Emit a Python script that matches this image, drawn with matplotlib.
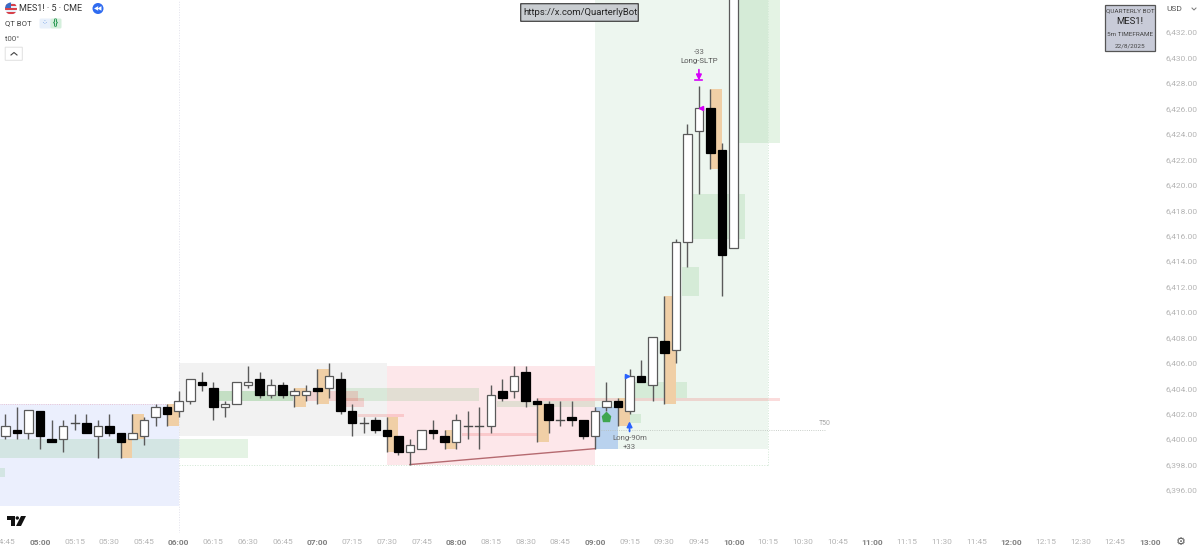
import matplotlib
matplotlib.use('Agg')
import matplotlib.pyplot as plt
from matplotlib.patches import Rectangle, FancyBboxPatch, Circle, Polygon

plt.rcParams['font.family'] = ['Roboto', 'DejaVu Sans']

# bars are 5 minutes apart, bar 0 is 05:00
first_bar = -3
opens = [6400.25, 6400.75, 6400.5, 6402.25, 6400.0, 6400.0, 6401.25, 6401.25, 6400.25, 6401.0,
         6400.5, 6400.0, 6400.25, 6401.75, 6402.5, 6402.25, 6403.0, 6404.5, 6404.0, 6402.5,
         6402.75, 6404.25, 6404.75, 6403.5, 6404.25, 6403.5, 6403.5, 6404.0, 6404.0, 6404.75,
         6402.25, 6401.25, 6401.5, 6400.75, 6400.25, 6399.0, 6399.25, 6400.75, 6400.25, 6399.75,
         6401.0, 6401.0, 6401.0, 6403.75, 6403.75, 6405.25, 6403.0, 6402.75, 6401.5, 6401.75,
         6401.5, 6400.25, 6402.5, 6403.0, 6402.25, 6405.0, 6404.25, 6407.75, 6407.0, 6415.5,
         6424.25, 6426.0, 6422.75, 6415.0]
highs = [6402.0, 6402.5, 6402.25, 6402.25, 6401.5, 6401.5, 6402.0, 6402.0, 6401.5, 6402.0,
         6400.5, 6402.0, 6401.75, 6402.75, 6402.75, 6403.75, 6404.75, 6405.25, 6404.5, 6403.0,
         6404.5, 6405.75, 6405.25, 6404.75, 6404.5, 6404.0, 6404.25, 6405.5, 6406.0, 6405.25,
         6402.75, 6401.75, 6401.75, 6401.75, 6400.25, 6400.0, 6400.75, 6401.5, 6400.75, 6402.0,
         6402.25, 6402.5, 6404.25, 6404.75, 6405.75, 6405.75, 6403.25, 6403.0, 6403.0, 6403.0,
         6401.5, 6402.5, 6404.5, 6403.25, 6405.5, 6406.25, 6408.0, 6411.25, 6415.75, 6424.75,
         6427.75, 6427.5, 6423.25, 6436.0]
lows = [6400.0, 6400.0, 6400.0, 6399.25, 6399.75, 6399.0, 6400.75, 6400.5, 6398.5, 6400.25,
        6398.5, 6400.0, 6399.5, 6401.0, 6401.0, 6401.75, 6402.75, 6403.75, 6401.5, 6401.75,
        6402.75, 6404.0, 6403.25, 6403.25, 6403.25, 6402.5, 6403.0, 6402.75, 6403.25, 6402.0,
        6400.25, 6400.5, 6400.5, 6399.0, 6398.75, 6398.0, 6399.25, 6400.0, 6399.25, 6399.25,
        6400.0, 6399.25, 6400.5, 6403.0, 6403.25, 6402.5, 6399.75, 6400.5, 6401.0, 6401.0,
        6400.0, 6399.25, 6402.25, 6401.0, 6402.0, 6404.5, 6403.0, 6402.75, 6406.0, 6413.5,
        6419.25, 6421.25, 6411.25, 6415.0]
closes = [6401.0, 6400.5, 6402.25, 6400.25, 6399.75, 6401.0, 6401.25, 6400.5, 6401.0, 6400.5,
          6399.75, 6400.5, 6401.5, 6402.5, 6402.0, 6403.0, 6404.75, 6404.25, 6402.5, 6402.75,
          6404.5, 6404.5, 6403.5, 6404.25, 6403.5, 6403.75, 6403.75, 6403.75, 6405.0, 6402.25,
          6401.25, 6401.25, 6400.75, 6400.25, 6399.0, 6399.5, 6400.75, 6400.5, 6399.75, 6401.5,
          6401.0, 6401.0, 6403.5, 6403.25, 6405.0, 6403.0, 6402.75, 6401.5, 6401.5, 6401.5,
          6400.25, 6402.25, 6403.0, 6402.5, 6405.0, 6404.5, 6408.0, 6406.75, 6415.5, 6424.0,
          6426.0, 6422.5, 6414.5, 6436.0]

# (first bar, last bar, low, high)
session_blue = (-4, 12, 6394.75, 6402.75)
session_gray = (12, 30, 6400.25, 6406.0)
session_red = (30, 48, 6398.0, 6405.75)
session_green = (48, 63, 6399.25, 6440.0)
entry_blue = (48, 50, 6399.25, 6402.5)
green_zones = [(-4, 18, 6398.5, 6400.0), (-4, -3, 6397.0, 6397.75), (15.4, 21.9, 6403.0, 6403.75),
               (15.4, 21.9, 6403.0, 6403.75), (26.5, 38, 6403.0, 6404.0), (39.5, 48, 6402.5, 6403.0),
               (50, 52, 6401.25, 6402.0), (51.5, 56, 6403.25, 6404.5), (55.5, 57, 6411.25, 6413.5),
               (56.5, 61, 6415.75, 6419.25), (60, 64, 6423.25, 6440.0)]
red_zones = [(22.5, 27.5, 6403.0, 6403.75), (26, 28, 6402.5, 6403.25), (27.5, 30, 6401.75, 6402.0),
             (30, 31.5, 6401.75, 6402.0), (36.5, 43, 6400.25, 6400.5), (43, 64, 6403.0, 6403.25)]
orange_starts = [7, 8, 11, 22, 24, 30, 35, 43, 50, 54, 58]
orange_lows = [6398.5, 6400.0, 6401.0, 6402.5, 6402.75, 6399.0, 6399.25, 6399.75, 6401.0, 6402.75, 6421.25]
orange_highs = [6400.0, 6402.0, 6402.75, 6404.0, 6405.5, 6401.75, 6400.75, 6402.75, 6403.25, 6411.25, 6427.5]

trend_bars = [32, 48]
trend_prices = [6398.0, 6399.25]

price_ticks = list(range(6396, 6434, 2))
time_ticks = list(range(-3, 97, 3))
time_labels = ['04:45', '05:00', '05:15', '05:30', '05:45', '06:00', '06:15', '06:30', '06:45', '07:00',
               '07:15', '07:30', '07:45', '08:00', '08:15', '08:30', '08:45', '09:00', '09:15', '09:30',
               '09:45', '10:00', '10:15', '10:30', '10:45', '11:00', '11:15', '11:30', '11:45', '12:00',
               '12:15', '12:30', '12:45', '13:00']


def zone(ax, z, color, alpha=1.0, zorder=1):
    ax.add_patch(Rectangle((z[0], z[2]), z[1] - z[0], z[3] - z[2], fc=color, ec='none',
                           alpha=alpha, zorder=zorder))


fig = plt.figure(figsize=(12, 5.49), dpi=100)
ax = fig.add_axes([0, 16 / 549, 1157 / 1200, 533 / 549])
bar_px = 11.56
ax.set_xlim(-40 / bar_px, (1157 - 40) / bar_px)
ax.set_ylim(6396 + (490 - 533) / 12.72, 6396 + 490 / 12.72)

zone(ax, session_blue, '#ebeffd')
zone(ax, session_gray, '#f2f2f2')
zone(ax, session_red, '#fde7ea')
zone(ax, session_green, '#edf6ef')
zone(ax, entry_blue, '#b9d2ee', zorder=2)
for z in green_zones:
    zone(ax, z, '#4caf50', 0.15, 2)
for z in red_zones:
    zone(ax, z, '#ef5350', 0.2, 2)
for s, lo, hi in zip(orange_starts, orange_lows, orange_highs):
    zone(ax, (s, s + 1, lo, hi), '#f0cfa6', zorder=3)

ax.axvline(12, color='#e2e2ec', lw=0.7, ls=':', zorder=2)
ax.plot([12, 63], [6398.0, 6398.0], color='#cfe6d2', lw=0.7, ls=':', zorder=2)
ax.plot([63, 63], [6398.0, 6440.0], color='#d3e8d6', lw=0.7, ls=':', zorder=2)
ax.plot([-4, 12], [6402.75, 6402.75], color='#e8b6c8', lw=0.6, ls=':', zorder=2)
ax.plot([48.5, 68], [6400.75, 6400.75], color='#b8bfb8', lw=0.6, ls=':', zorder=2)
ax.plot(trend_bars, trend_prices, color='#b56a70', lw=1, zorder=4)
ax.text(68.4, 6401.2, 'T50', color='#a8a8a8', fontsize=5, ha='right', va='center')

for i in range(len(opens)):
    b = first_bar + i
    top = max(opens[i], closes[i])
    bottom = min(opens[i], closes[i])
    bull = closes[i] >= opens[i]
    ax.plot([b, b], [lows[i], highs[i]], color='#5a5a5a', lw=1, zorder=5, solid_capstyle='butt')
    if top == bottom:
        ax.plot([b - 0.36, b + 0.36], [top, top], color='#4a4a4a', lw=1, zorder=6)
    else:
        ax.add_patch(Rectangle((b - 0.37, bottom), 0.74, top - bottom, zorder=6,
                               fc='white' if bull else 'black',
                               ec='#5a5a5a' if bull else 'black', lw=0.9))

ax.plot([49], [6401.75], marker='p', ms=6.5, color='#3fa650', zorder=7)
ax.plot([50.75], [6405.0], marker='>', ms=3, color='#2962ff', zorder=7)
ax.plot([57.2], [6426.0], marker='<', ms=3, color='#d500f9', zorder=7)
ax.annotate('', xy=(51, 6401.4), xytext=(51, 6400.6),
            arrowprops=dict(arrowstyle='-|>', color='#2962ff', lw=1.2, mutation_scale=8,
                            shrinkA=0, shrinkB=0), zorder=7)
ax.annotate('', xy=(57, 6428.2), xytext=(57, 6429.05),
            arrowprops=dict(arrowstyle='-|>', color='#d500f9', lw=1.2, mutation_scale=8,
                            shrinkA=0, shrinkB=0), zorder=7)
ax.plot([56.7, 57.3], [6428.25, 6428.25], color='#d500f9', lw=1.2, zorder=7)
ax.text(51, 6400.05, 'Long-90m', color='#666666', fontsize=5.6, ha='center', va='center', zorder=7)
ax.text(51, 6399.35, '+33', color='#666666', fontsize=5.6, ha='center', va='center', zorder=7)
ax.text(57, 6430.45, '-33', color='#666666', fontsize=5.6, ha='center', va='center', zorder=7)
ax.text(57, 6429.72, 'Long-SLTP', color='#555555', fontsize=5.6, ha='center', va='center', zorder=7)

for s in ax.spines.values():
    s.set_visible(False)
ax.set_yticks(price_ticks)
ax.set_yticklabels(['{:,.2f}'.format(p) for p in price_ticks], color='#b4b4b4', fontsize=6)
ax.yaxis.tick_right()
ax.set_xticks(time_ticks)
ax.set_xticklabels(time_labels, color='#b4b4b4', fontsize=6)
for lab in ax.get_xticklabels():
    if lab.get_text().endswith(':00'):
        lab.set_fontweight('bold')
        lab.set_color('#808080')
ax.tick_params(axis='both', length=0)
ax.tick_params(axis='y', pad=6)
ax.tick_params(axis='x', pad=4)

# screen furniture, in pixels
ui = fig.add_axes([0, 0, 1, 1])
ui.set_xlim(0, 1200)
ui.set_ylim(549, 0)
ui.axis('off')
ui.patch.set_visible(False)

flag = Circle((11, 8.5), 6, fc='#e9eef8', ec='none')
ui.add_patch(flag)
for y in [4.5, 8.5, 12.5]:
    r = Rectangle((4, y - 1), 14, 2, fc='#d8414a', ec='none')
    ui.add_patch(r)
    r.set_clip_path(flag)
canton = Rectangle((4, 2), 7, 5.5, fc='#3b6bc4', ec='none')
ui.add_patch(canton)
canton.set_clip_path(flag)
ui.text(19, 8.5, 'MES1! · 5 · CME', color='#333333', fontsize=6.5, va='center')
ui.add_patch(Circle((98, 8.5), 5.5, fc='#2f6bf0', ec='none'))
ui.text(98, 8.5, '◀◀', color='white', fontsize=4, ha='center', va='center', family='DejaVu Sans')
ui.text(5, 23.5, 'QT BOT', color='#444444', fontsize=5.6, va='center')
ui.add_patch(FancyBboxPatch((41, 20), 9, 7, boxstyle='round,pad=1.5', fc='#e8f0fb', ec='none'))
ui.add_patch(FancyBboxPatch((52, 20), 8, 7, boxstyle='round,pad=1.5', fc='#d4efdc', ec='none'))
ui.text(45, 23.5, '⁘', color='#5b8fe0', fontsize=5, ha='center', va='center', family='DejaVu Sans')
ui.text(56, 23, '{}', color='#2c9a55', fontsize=6.5, ha='center', va='center', fontweight='bold')
ui.text(5, 39, 't00°', color='#555555', fontsize=5.6, va='center')
ui.add_patch(FancyBboxPatch((5.5, 47.5), 16.5, 12.5, boxstyle='round,pad=0.3', fc='white', ec='#e0e0e0', lw=0.7))
ui.plot([11, 14, 17], [55, 52.5, 55], color='#444444', lw=0.8)

ui.add_patch(FancyBboxPatch((521, 4), 117, 17, boxstyle='round,pad=0.3', fc='#c9cdd1', ec='#444444', lw=0.9, zorder=8))
ui.text(580, 12.5, 'https://x.com/QuarterlyBot', color='#222222', fontsize=6.8, ha='center', va='center', zorder=9)

ui.add_patch(Rectangle((1105, 5), 50, 46, fc='#c8cbd8', ec='#555555', lw=0.9))
ui.text(1130, 10.5, 'QUARTERLY BOT', color='#444444', fontsize=4.6, ha='center', va='center')
ui.text(1130, 22, 'MES1!', color='#222222', fontsize=6.8, ha='center', va='center')
ui.text(1130, 35, '5m TIMEFRAME', color='#444444', fontsize=4.6, ha='center', va='center')
ui.text(1130, 45.5, '22/8/2025', color='#444444', fontsize=4.6, ha='center', va='center')

ui.text(1166, 9, 'USD', color='#555555', fontsize=6, va='center')
ui.plot([1192, 1194, 1196], [8, 10, 8], color='#777777', lw=0.7)
ui.text(1181, 542, '⚙', color='#555555', fontsize=8, ha='center', va='center', family='DejaVu Sans')

ui.add_patch(Polygon([(7, 516), (15, 516), (15, 526), (11, 526), (11, 520), (7, 520)], fc='#111111', ec='none'))
ui.add_patch(Circle((17.3, 518), 1.7, fc='#111111', ec='none'))
ui.add_patch(Polygon([(21, 516), (26, 516), (21, 526), (16, 526)], fc='#111111', ec='none'))

fig.savefig('out.png', dpi=100)
